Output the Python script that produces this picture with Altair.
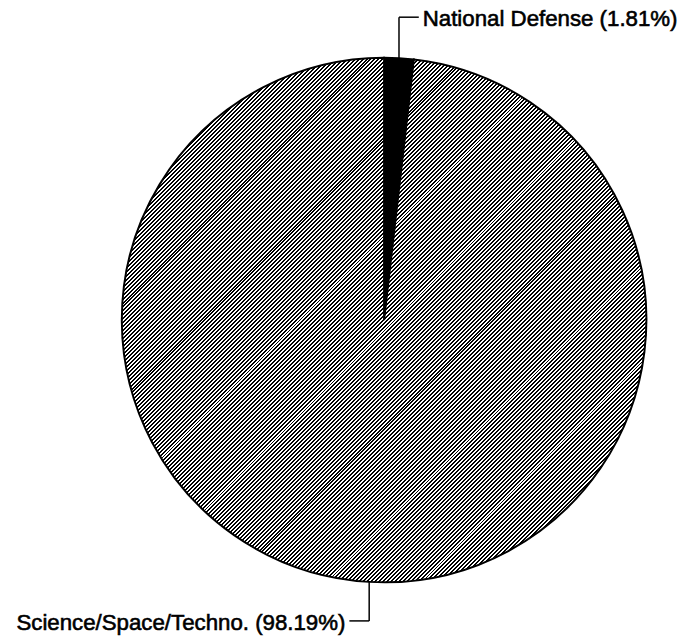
import math
import altair as alt
import pandas as pd

# ---- data ----
categories = ["National Defense", "Science/Space/Techno."]
percents = [1.81, 98.19]
order = [0, 1]

# ---- layout (chart coordinates, page minus 8px margin) ----
W, H = 680, 631
CX, CY, R = 380.0, 312.0, 265.0
label_y = [6.0, 616.0]          # elbow heights of leader lines
label_dir = [1, -1]             # +1: label to the right, -1: to the left
TICK = 20
GAP = 4

# pie geometry derived from values
total = sum(percents)
cum = 0.0
leader_rows, text_rows = [], []
for cat, p, ly, d in zip(categories, percents, label_y, label_dir):
    mid = (cum + p / 2) / total * 2 * math.pi
    cum += p
    ex = CX + R * math.sin(mid)
    ey = CY - R * math.cos(mid)
    leader_rows.append({"x": ex, "y": ey, "x2": ex, "y2": ly})
    leader_rows.append({"x": ex, "y": ly, "x2": ex + d * TICK, "y2": ly})
    text_rows.append({
        "x": ex + d * (TICK + GAP),
        "y": ly + 9,
        "label": f"{cat} ({p:.2f}%)",
        "align": "left" if d > 0 else "right",
    })

df = pd.DataFrame({"category": categories, "pct": percents, "order": order})
leaders = pd.DataFrame(leader_rows)
texts = pd.DataFrame(text_rows)

# diagonal "/" hatch imitation via hard-stop linear gradient
# (n = R gives a 4px horizontal period, aligned to the pixel grid)
n = int(R)
stops = []
for i in range(n):
    a = i / n
    b = (i + 0.5) / n
    c = (i + 1) / n
    stops += [
        {"offset": a, "color": "#000000"},
        {"offset": b, "color": "#000000"},
        {"offset": b, "color": "#ffffff"},
        {"offset": c, "color": "#ffffff"},
    ]
hatch = {"gradient": "linear", "x1": 0, "y1": 0, "x2": 1, "y2": 1, "stops": stops}

pie = alt.Chart(df).mark_arc(
    outerRadius=R, stroke="black", strokeWidth=2
).encode(
    theta=alt.Theta("pct:Q", stack=True),
    order=alt.Order("order:Q"),
    fill=alt.condition(
        alt.datum.category == "National Defense",
        alt.value("black"),
        alt.value(hatch),
    ),
    x=alt.value(CX),
    y=alt.value(CY),
)

lines = alt.Chart(leaders).mark_rule(color="black", strokeWidth=1.5).encode(
    x=alt.X("x:Q", scale=None),
    y=alt.Y("y:Q", scale=None),
    x2="x2:Q",
    y2="y2:Q",
)

text_style = dict(baseline="alphabetic", font="Liberation Sans", fontSize=22.5,
                  color="black", stroke="black", strokeWidth=0.6)

left_text = alt.Chart(texts[texts["align"] == "left"]).mark_text(
    align="left", **text_style
).encode(x=alt.X("x:Q", scale=None), y=alt.Y("y:Q", scale=None), text="label:N")

right_text = alt.Chart(texts[texts["align"] == "right"]).mark_text(
    align="right", **text_style
).encode(x=alt.X("x:Q", scale=None), y=alt.Y("y:Q", scale=None), text="label:N")

chart = alt.layer(pie, lines, left_text, right_text).properties(
    width=W, height=H, autosize=alt.AutoSizeParams(type="none"), padding=0
).configure_view(stroke=None)

chart.save("out.html", embed_options={"renderer": "svg", "actions": False})
